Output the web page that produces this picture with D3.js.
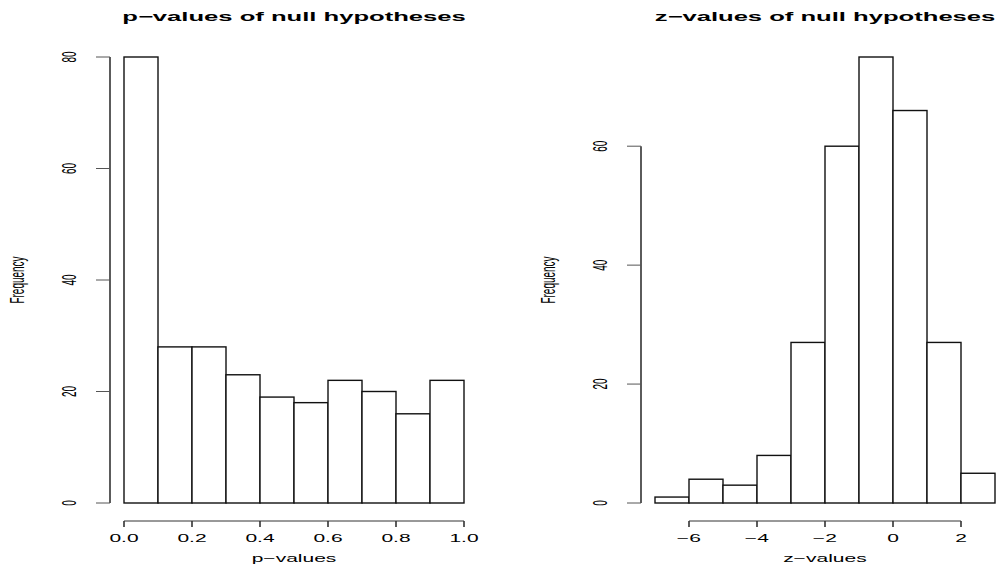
<!DOCTYPE html>
<html>
<head>
<meta charset="utf-8">
<script src="https://cdn.jsdelivr.net/npm/d3@7"></script>
<style>
  body { margin: 0; background: #fff; }
  text { font-family: "Liberation Sans", Arial, Helvetica, sans-serif; fill: #000; }
</style>
</head>
<body>
<div id="chart"></div>
<script>
// histogram data
const pBreaks = [0, 0.1, 0.2, 0.3, 0.4, 0.5, 0.6, 0.7, 0.8, 0.9, 1.0];
const pCounts = [80, 28, 28, 23, 19, 18, 22, 20, 16, 22];
const pXTicks = [0, 0.2, 0.4, 0.6, 0.8, 1.0];
const pYTicks = [0, 20, 40, 60, 80];

const zBreaks = [-7, -6, -5, -4, -3, -2, -1, 0, 1, 2, 3];
const zCounts = [1, 4, 3, 8, 27, 60, 75, 66, 27, 5];
const zXTicks = [-6, -4, -2, 0, 2];
const zYTicks = [0, 20, 40, 60];

const width = 1004, height = 572;
const SX = 2.1; // the picture is stretched sideways

const svg = d3.select("#chart")
    .append("svg")
    .attr("width", width)
    .attr("height", height);

function drawHist(opt) {
    const g = svg.append("g");

    const x = d3.scaleLinear().domain(opt.xDomain).range(opt.xRange);
    const y = d3.scaleLinear().domain(opt.yDomain).range(opt.yRange);

    const bins = opt.counts.map((c, i) => ({ x0: opt.breaks[i], x1: opt.breaks[i + 1], n: c }));

    g.selectAll(".bar")
        .data(bins)
        .enter()
        .append("rect")
        .attr("class", "bar")
        .attr("x", d => x(d.x0))
        .attr("y", d => y(d.n))
        .attr("width", d => x(d.x1) - x(d.x0))
        .attr("height", d => y(0) - y(d.n))
        .attr("fill", "#fff")
        .attr("stroke", "#111")
        .attr("stroke-width", 1.4);

    // x axis
    const axisY = opt.axisY;
    const xt = opt.xTicks;
    g.append("line")
        .attr("x1", x(xt[0])).attr("x2", x(xt[xt.length - 1]))
        .attr("y1", axisY).attr("y2", axisY)
        .attr("stroke", "#333");
    g.selectAll(".xtick")
        .data(xt)
        .enter()
        .append("line")
        .attr("x1", d => x(d)).attr("x2", d => x(d))
        .attr("y1", axisY).attr("y2", axisY + 6)
        .attr("stroke", "#333").attr("stroke-width", 1.6);
    g.selectAll(".xlab")
        .data(xt)
        .enter()
        .append("text")
        .attr("text-anchor", "middle")
        .attr("font-size", 10)
        .attr("transform", d => `translate(${x(d)},542) scale(${SX},1)`)
        .text(d => opt.xFormat(d));

    // y axis
    const yt = opt.yTicks;
    const axisX = opt.axisX;
    g.append("line")
        .attr("x1", axisX).attr("x2", axisX)
        .attr("y1", y(yt[0])).attr("y2", y(yt[yt.length - 1]))
        .attr("stroke", "#333").attr("stroke-width", 1.6);
    g.selectAll(".ytick")
        .data(yt)
        .enter()
        .append("line")
        .attr("x1", axisX - 14).attr("x2", axisX)
        .attr("y1", d => y(d)).attr("y2", d => y(d))
        .attr("stroke", "#555");
    g.selectAll(".ylab")
        .data(yt)
        .enter()
        .append("text")
        .attr("text-anchor", "middle")
        .attr("font-size", 10)
        .attr("transform", d => `translate(${axisX - 34},${y(d)}) scale(${SX},1) rotate(-90)`)
        .text(d => d);

    // titles
    const cx = (opt.xRange[0] + opt.xRange[1]) / 2;
    g.append("text")
        .attr("text-anchor", "middle")
        .attr("font-size", 12.2)
        .attr("font-weight", "bold")
        .attr("transform", `translate(${cx},21) scale(${SX},1)`)
        .text(opt.title);

    g.append("text")
        .attr("text-anchor", "middle")
        .attr("font-size", 10)
        .attr("transform", `translate(${cx},562) scale(${SX},1)`)
        .text(opt.xLabel);

    g.append("text")
        .attr("text-anchor", "middle")
        .attr("font-size", 10)
        .attr("transform", `translate(${axisX - 86},280) scale(${SX},1) rotate(-90)`)
        .text("Frequency");
}

drawHist({
    breaks: pBreaks, counts: pCounts,
    xTicks: pXTicks, yTicks: pYTicks,
    xDomain: [0, 1], xRange: [124, 464],
    yDomain: [0, 80], yRange: [503, 57],
    axisX: 110, axisY: 521,
    xFormat: d3.format(".1f"),
    title: "p\u2212values of null hypotheses",
    xLabel: "p\u2212values"
});

drawHist({
    breaks: zBreaks, counts: zCounts,
    xTicks: zXTicks, yTicks: zYTicks,
    xDomain: [-7, 3], xRange: [655, 995],
    yDomain: [0, 75], yRange: [503, 57],
    axisX: 641, axisY: 521,
    xFormat: d => String(d).replace("-", "\u2212"),
    title: "z\u2212values of null hypotheses",
    xLabel: "z\u2212values"
});
</script>
</body>
</html>
